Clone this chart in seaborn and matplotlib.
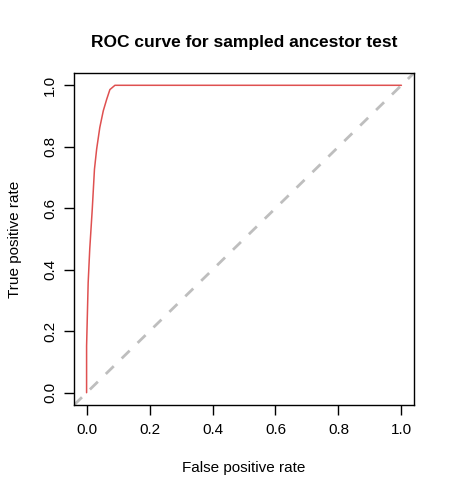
import matplotlib
matplotlib.use("Agg")
import matplotlib.pyplot as plt
import seaborn as sns
import pandas as pd

fpr = [0.0, 0.0, 0.005, 0.010, 0.018, 0.025, 0.032, 0.042, 0.053, 0.064, 0.074, 0.090, 0.20, 0.50, 0.80, 1.0]
tpr = [0.0, 0.152, 0.358, 0.467, 0.597, 0.727, 0.793, 0.863, 0.917, 0.955, 0.986, 1.0, 1.0, 1.0, 1.0, 1.0]
ticks = [0.0, 0.2, 0.4, 0.6, 0.8, 1.0]
tick_labels = ["0.0", "0.2", "0.4", "0.6", "0.8", "1.0"]

sns.set_style("white")
plt.rcParams['font.family'] = ['Liberation Sans', 'DejaVu Sans']
plt.rcParams['text.color'] = 'black'
plt.rcParams['axes.labelcolor'] = 'black'

df = pd.DataFrame({"fpr": fpr, "tpr": tpr})

fig = plt.figure(figsize=(4.53, 4.98), dpi=100)
ax = fig.add_axes([74/453, 1-405/498, (414-74)/453, (405-73)/498])

ax.axline((0, 0), slope=1, color="#BEBEBE", lw=2, ls=(0, (4, 4)), zorder=1)
sns.lineplot(data=df, x="fpr", y="tpr", ax=ax, color="#DF5050", lw=1.1, sort=False,
             estimator=None, zorder=2)

ax.set_xlim(-0.04, 1.04)
ax.set_ylim(-0.04, 1.04)
ax.set_xticks(ticks)
ax.set_xticklabels(tick_labels, fontsize=11)
ax.set_yticks(ticks)
ax.set_yticklabels(tick_labels, fontsize=11, rotation=90, va="center")
ax.tick_params(axis="both", direction="out", length=7, width=1, colors="black",
               labelcolor="black", bottom=True, left=True)
ax.tick_params(axis="x", pad=6)
ax.tick_params(axis="y", pad=5)
for s in ax.spines.values():
    s.set_color("black")
    s.set_linewidth(1)
    s.set_visible(True)
ax.set_xlabel("False positive rate", fontsize=11, labelpad=17)
ax.set_ylabel("True positive rate", fontsize=11, labelpad=15)
ax.set_title("ROC curve for sampled ancestor test", fontsize=12.5, fontweight="bold",
             pad=19, color="black")

fig.savefig("out.png", dpi=100)
